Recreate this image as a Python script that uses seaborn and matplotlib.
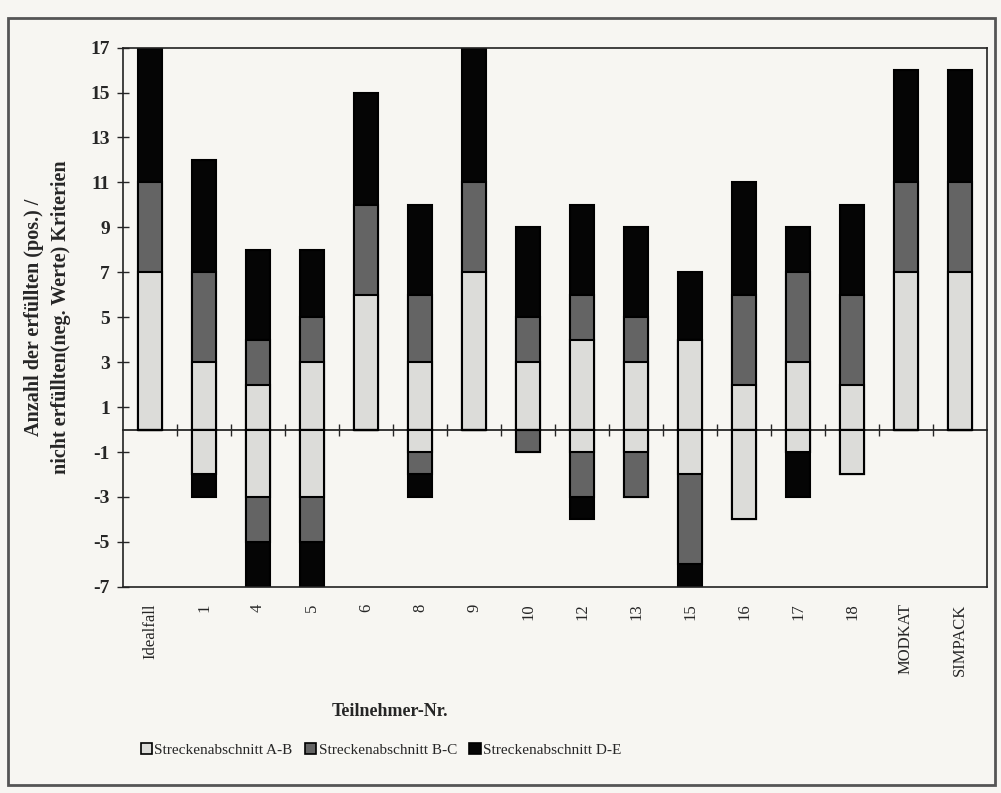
import matplotlib
matplotlib.use('Agg')
import matplotlib.pyplot as plt
from matplotlib.patches import Patch, Rectangle
import numpy as np
import seaborn as sns

# Teilnehmer und Kriterien je Streckenabschnitt
teilnehmer = ["Idealfall", "1", "4", "5", "6", "8", "9", "10", "12", "13",
              "15", "16", "17", "18", "MODKAT", "SIMPACK"]
pos_ab = [7, 3, 2, 3, 6, 3, 7, 3, 4, 3, 4, 2, 3, 2, 7, 7]
pos_bc = [4, 4, 2, 2, 4, 3, 4, 2, 2, 2, 0, 4, 4, 4, 4, 4]
pos_de = [6, 5, 4, 3, 5, 4, 6, 4, 4, 4, 3, 5, 2, 4, 5, 5]
neg_ab = [0, -2, -3, -3, 0, -1, 0, 0, -1, -1, -2, -4, -1, -2, 0, 0]
neg_bc = [0, 0, -2, -2, 0, -1, 0, -1, -2, -2, -4, 0, 0, 0, 0, 0]
neg_de = [0, -1, -2, -2, 0, -1, 0, 0, -1, 0, -1, 0, -2, 0, 0, 0]
legende = ["Streckenabschnitt A-B", "Streckenabschnitt B-C", "Streckenabschnitt D-E"]
yticks = list(range(-7, 18, 2))

farben = ["#dcdcd9", "#646464", "#050505"]
bg = "#f7f6f2"

sns.set_style("ticks")
plt.rcParams['font.family'] = ['Liberation Serif', 'DejaVu Serif']

fig = plt.figure(figsize=(10.01, 7.93), dpi=100, facecolor=bg)
ax = fig.add_axes([0.123, 0.26, 0.863, 0.68])
ax.set_facecolor(bg)

pa, pb, pd_ = np.array(pos_ab), np.array(pos_bc), np.array(pos_de)
na, nb, nd = np.array(neg_ab), np.array(neg_bc), np.array(neg_de)

# gestapelt: groesste Summe zuerst, dann ueberdecken
for werte in ([pa + pb + pd_, pa + pb, pa], [na + nb + nd, na + nb, na]):
    for w, c in zip(werte, farben[::-1]):
        sns.barplot(x=teilnehmer, y=w, order=teilnehmer, color=c, saturation=1,
                    width=0.45, edgecolor="black", linewidth=1.5,
                    errorbar=None, ax=ax)

ax.set_ylim(-7, 17)
ax.set_xlim(-0.5, len(teilnehmer) - 0.5)
ax.set_yticks(yticks)
ax.set_yticklabels([str(t) for t in yticks], fontsize=14, fontweight="bold")
ax.tick_params(axis="y", direction="inout", length=9, width=1, pad=5)
ax.tick_params(axis="x", length=0, pad=12)
ax.set_xticks(range(len(teilnehmer)))
ax.set_xticklabels(teilnehmer, rotation=90, fontsize=12, va="top")
for s in ax.spines.values():
    s.set_visible(True)
    s.set_linewidth(1.2)
    s.set_color("#222222")

# Nulllinie mit Teilstrichen zwischen den Balken
null = (0 - (-7)) / (17 - (-7))
sec = ax.secondary_xaxis(null)
sec.set_xticks(np.arange(len(teilnehmer) - 1) + 0.5)
sec.tick_params(axis="x", direction="inout", length=9, width=1,
                labelbottom=False, labeltop=False)
sec.spines["bottom"].set_linewidth(1.3)
sec.spines["top"].set_linewidth(1.3)

ax.set_xlabel("")
ax.set_ylabel("Anzahl der erfüllten (pos.) /\nnicht erfüllten(neg. Werte) Kriterien",
              fontsize=14.5, fontweight="bold", labelpad=14, linespacing=1.45)

fig.text(390 / 1001, 1 - 712 / 793, "Teilnehmer-Nr.", ha="center", va="center",
         fontsize=13, fontweight="bold")

handles = [Patch(facecolor=c, edgecolor="black", linewidth=1.2) for c in farben]
fig.legend(handles, legende, loc="center", bbox_to_anchor=(381 / 1001, 1 - 750 / 793),
           ncol=3, frameon=False, fontsize=11, handlelength=0.75, handleheight=0.75,
           handletextpad=0.15, columnspacing=0.8)

fig.patches.append(Rectangle((8 / 1001, 8 / 793), 987 / 1001, 767 / 793,
                             transform=fig.transFigure, fill=False,
                             edgecolor="#555555", linewidth=2))

fig.savefig("out.png", dpi=100, facecolor=bg)
